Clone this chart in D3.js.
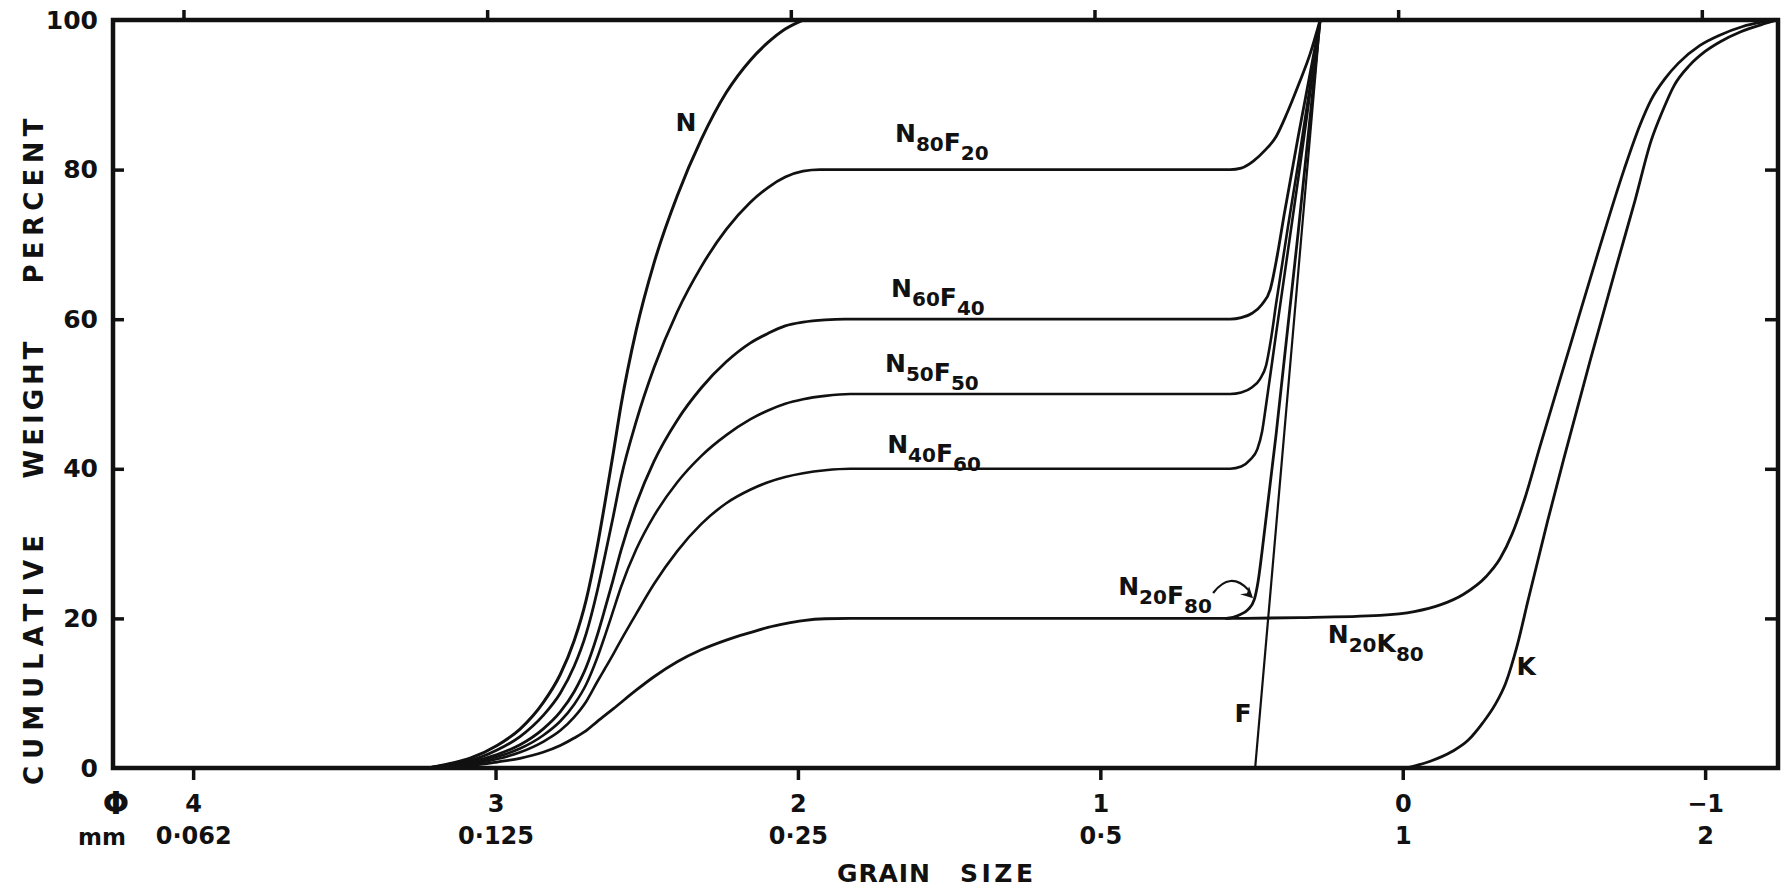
<!DOCTYPE html>
<html>
<head>
<meta charset="utf-8">
<script src="https://cdn.jsdelivr.net/npm/d3@7/dist/d3.min.js"></script>
<style>
  html, body { margin: 0; padding: 0; background: #fff; }
  svg { display: block; }
  text { font-family: "DejaVu Sans", "Liberation Sans", Arial, sans-serif; fill: #111; font-weight: bold; }
</style>
</head>
<body>
<svg id="chart" width="1784" height="889"></svg>
<script>
// Grain-size axis (phi units) and the matching sieve sizes in mm
const phiTicks = [4, 3, 2, 1, 0, -1];
const mmLabels = ["0\u00B7062", "0\u00B7125", "0\u00B725", "0\u00B75", "1", "2"];
const pctTicks = [0, 20, 40, 60, 80, 100];
const pctInnerTicks = [20, 40, 60, 80];

// Cumulative weight percent curves: phi positions and percent values
const phiN = [3.223, 3.150, 3.084, 2.995, 2.919, 2.843, 2.786, 2.740, 2.700, 2.664, 2.638, 2.611, 2.585, 2.535, 2.476, 2.399, 2.320, 2.237, 2.158, 2.099, 2.042, 1.983];
const pctN = [0, 0.6, 1.3, 3.0, 5.2, 8.7, 12.5, 17, 22.5, 29.5, 35.5, 42, 48.5, 58.5, 67.5, 76.5, 84, 90.3, 94.6, 97, 98.8, 100];

const phiN80F20 = [3.223, 3.150, 3.084, 2.995, 2.919, 2.843, 2.786, 2.740, 2.700, 2.664, 2.638, 2.611, 2.585, 2.535, 2.476, 2.399, 2.320, 2.237, 2.158, 2.099, 2.042, 1.983, 1.927,
                   0.571, 0.534, 0.495, 0.455, 0.419, 0.382, 0.343, 0.306, 0.273];
const pctN80F20 = [0, 0.5, 1.0, 2.4, 4.2, 7.0, 10, 13.6, 18, 23.6, 28.4, 33.6, 38.8, 46.3, 53.5, 61, 67, 72, 75.6, 77.6, 79, 79.8, 80,
                   80, 80.2, 81.1, 82.6, 84.4, 87.6, 91.5, 95.5, 100];

const phiN60F40 = [3.223, 3.150, 3.084, 2.995, 2.919, 2.843, 2.786, 2.740, 2.700, 2.664, 2.638, 2.611, 2.585, 2.535, 2.476, 2.399, 2.320, 2.237, 2.158, 2.099, 2.042, 1.983, 1.910, 1.844,
                   0.571, 0.534, 0.498, 0.465, 0.438, 0.415, 0.392, 0.343, 0.273];
const pctN60F40 = [0, 0.4, 0.8, 1.8, 3.1, 5.2, 7.5, 10.2, 13.5, 17.7, 21.3, 25.2, 29.1, 35.3, 41, 46.5, 50.8, 54.3, 56.8, 58.1, 59.1, 59.6, 59.9, 60,
                   60, 60.2, 60.8, 62, 64, 68.5, 74, 85, 100];

const phiN50F50 = [3.223, 3.150, 3.084, 2.995, 2.919, 2.843, 2.786, 2.740, 2.700, 2.664, 2.638, 2.611, 2.585, 2.535, 2.476, 2.399, 2.320, 2.237, 2.158, 2.099, 2.042, 1.983, 1.910, 1.827,
                   0.571, 0.534, 0.498, 0.472, 0.452, 0.435, 0.419, 0.379, 0.343, 0.273];
const pctN50F50 = [0, 0.3, 0.65, 1.5, 2.6, 4.35, 6.25, 8.5, 11.2, 14.7, 17.7, 21, 24.2, 29.2, 33.7, 38.2, 41.7, 44.5, 46.6, 47.8, 48.7, 49.3, 49.75, 50,
                   50, 50.2, 50.9, 52, 53.8, 57.5, 62, 72.5, 81.5, 100];

const phiN40F60 = [3.223, 3.150, 3.084, 2.995, 2.919, 2.843, 2.786, 2.740, 2.700, 2.664, 2.638, 2.611, 2.585, 2.535, 2.476, 2.399, 2.320, 2.237, 2.158, 2.099, 2.042, 1.983, 1.910, 1.827,
                   0.571, 0.534, 0.505, 0.481, 0.465, 0.452, 0.419, 0.343, 0.273];
const pctN40F60 = [0, 0.25, 0.5, 1.2, 2.1, 3.5, 5, 6.8, 8.9, 11.5, 13.3, 15.2, 17.1, 20.6, 24.6, 29, 32.6, 35.4, 37.2, 38.2, 38.9, 39.4, 39.8, 40,
                   40, 40.3, 41.2, 42.6, 45, 48.5, 58, 79.5, 100];

const phiN20F80 = [3.183, 3.084, 2.995, 2.919, 2.843, 2.786, 2.740, 2.700, 2.664, 2.611, 2.535, 2.476, 2.399, 2.320, 2.237, 2.158, 2.099, 2.042, 1.983, 1.910, 1.827,
                   0.584, 0.544, 0.511, 0.491, 0.478, 0.465, 0.419, 0.346, 0.273];
const pctN20F80 = [0, 0.3, 0.8, 1.3, 2.1, 3, 4, 5, 6.2, 7.9, 10.4, 12.2, 14.2, 15.8, 17.1, 18.1, 18.8, 19.3, 19.7, 19.95, 20,
                   20, 20.4, 21.2, 22.5, 25, 29, 44.5, 71.5, 100];

const phiN20K80 = [0.584, 0.339, 0.075, -0.038, -0.124, -0.200, -0.276, -0.322, -0.362, -0.405, -0.454, -0.554, -0.643, -0.732, -0.785, -0.821, -0.868, -0.911, -0.983, -1.050, -1.122, -1.188, -1.241];
const pctN20K80 = [20, 20.1, 20.4, 20.9, 21.8, 23.2, 25.6, 28, 31.3, 36.2, 43, 56.5, 68.5, 80, 86, 89.3, 92.2, 94.2, 96.6, 98, 99.1, 99.7, 100];

const phiK = [-0.011, -0.091, -0.163, -0.216, -0.264, -0.306, -0.340, -0.378, -0.415, -0.479, -0.537, -0.620, -0.706, -0.769, -0.821, -0.861, -0.897, -0.950, -1.000, -1.050, -1.116, -1.188, -1.241];
const pctK = [0, 0.9, 2.2, 3.7, 6, 8.5, 11.3, 16.3, 22.5, 33, 42, 54.5, 67, 76, 83.8, 88, 91.2, 94, 95.8, 97.1, 98.4, 99.4, 100];

const phiF = [0.488, 0.273];
const pctF = [0, 100];

// Curve labels: text, subscripts, anchor (phi, percent)
const labelParts = [
  [["N", ""]],
  [["N", "80"], ["F", "20"]],
  [["N", "60"], ["F", "40"]],
  [["N", "50"], ["F", "50"]],
  [["N", "40"], ["F", "60"]],
  [["N", "20"], ["F", "80"]],
  [["N", "20"], ["K", "80"]],
  [["K", ""]],
  [["F", ""]]
];
const labelPhi = [2.370, 1.679, 1.692, 1.712, 1.705, 0.941, 0.248, -0.408, 0.528];
const labelPct = [85.2, 83.7, 63.0, 52.9, 42.1, 23.1, 16.7, 12.4, 6.1];
const labelAnchor = ["middle", "start", "start", "start", "start", "start", "start", "middle", "middle"];

const svg = d3.select("#chart");
const W = 1784, H = 889;
const mLeft = 113, mRight = 1778, mTop = 20, mBottom = 768;

const x = d3.scaleLinear().domain([4.265, -1.241]).range([mLeft, mRight]);
const y = d3.scaleLinear().domain([0, 100]).range([mBottom, mTop]);
// the top tick row sits a little to the left of the bottom one
const xTop = d3.scaleLinear().domain([4.265, -1.241]).range([mLeft - 10, mRight - 3]);

svg.append("rect").attr("width", W).attr("height", H).attr("fill", "#fff");

// Curves
const series = [
  [phiN, pctN, 3], [phiN80F20, pctN80F20, 2.8], [phiN60F40, pctN60F40, 2.8],
  [phiN50F50, pctN50F50, 2.6], [phiN40F60, pctN40F60, 2.6], [phiN20F80, pctN20F80, 2.8],
  [phiN20K80, pctN20K80, 2.8], [phiK, pctK, 2.8]
];
const line = d3.line().x(d => x(d[0])).y(d => y(d[1])).curve(d3.curveMonotoneX);
const plot = svg.append("g");
series.forEach(([ph, pc, w]) => {
  plot.append("path")
    .datum(ph.map((p, i) => [p, pc[i]]))
    .attr("d", line)
    .attr("fill", "none").attr("stroke", "#111").attr("stroke-width", w)
    .attr("stroke-linejoin", "round").attr("stroke-linecap", "round");
});
plot.append("path")
  .datum(phiF.map((p, i) => [p, pctF[i]]))
  .attr("d", d3.line().x(d => x(d[0])).y(d => y(d[1])))
  .attr("fill", "none").attr("stroke", "#111").attr("stroke-width", 2.2);

// Frame
svg.append("rect")
  .attr("x", mLeft).attr("y", mTop)
  .attr("width", mRight - mLeft).attr("height", mBottom - mTop)
  .attr("fill", "none").attr("stroke", "#111").attr("stroke-width", 4.5);

// Axes
const styleAxis = g => {
  g.select(".domain").remove();
  g.selectAll(".tick line").attr("stroke", "#111").attr("stroke-width", 3.5);
};
const axisFont = sel => sel
  .attr("font-size", 24).attr("fill", "#111")
  .attr("font-family", "DejaVu Sans, Liberation Sans, Arial, sans-serif").attr("font-weight", "bold");

const bottomAxis = svg.append("g")
  .attr("transform", `translate(0,${mBottom})`)
  .call(d3.axisBottom(x).tickValues(phiTicks).tickSize(12).tickPadding(15)
    .tickFormat(d => d === -1 ? "\u22121" : d3.format("d")(d)))
  .call(styleAxis);
bottomAxis.selectAll(".tick text").call(axisFont);
bottomAxis.selectAll(".tick").append("text")
  .attr("y", 59).attr("dy", "0.71em")
  .attr("text-anchor", "middle")
  .call(axisFont)
  .text((d, i) => mmLabels[i]);

svg.append("g")
  .attr("transform", `translate(0,${mTop})`)
  .call(d3.axisTop(xTop).tickValues(phiTicks).tickSize(10).tickFormat(""))
  .call(styleAxis);

const leftAxis = svg.append("g")
  .attr("transform", `translate(${mLeft},0)`)
  .call(d3.axisLeft(y).tickValues(pctTicks).tickSize(-11).tickPadding(15).tickFormat(d3.format("d")))
  .call(styleAxis);
leftAxis.selectAll(".tick line").filter(d => d === 0 || d === 100).remove();
leftAxis.selectAll(".tick text").call(axisFont).attr("font-size", 25);

svg.append("g")
  .attr("transform", `translate(${mRight},0)`)
  .call(d3.axisRight(y).tickValues(pctInnerTicks).tickSize(-13).tickFormat(""))
  .call(styleAxis);

// Axis symbol labels
svg.append("text").attr("x", 116).attr("y", 814).attr("text-anchor", "middle")
  .attr("font-size", 31).text("\u03A6");
svg.append("text").attr("x", 102).attr("y", 845).attr("text-anchor", "middle")
  .attr("font-size", 23).text("mm");

// Axis titles, word by word
const xTitle = [["GRAIN", 883.5, 93], ["SIZE", 996.5, 73]];
xTitle.forEach(([w, cx, len]) => {
  svg.append("text")
    .attr("x", cx).attr("y", 882).attr("text-anchor", "middle")
    .attr("font-size", 25)
    .attr("textLength", len).attr("lengthAdjust", "spacing")
    .text(w);
});
const yTitle = [["CUMULATIVE", 660, 250], ["WEIGHT", 410, 137], ["PERCENT", 201, 165]];
yTitle.forEach(([w, cy, len]) => {
  svg.append("text")
    .attr("transform", `translate(43,${cy}) rotate(-90)`)
    .attr("text-anchor", "middle")
    .attr("font-size", 26)
    .attr("textLength", len).attr("lengthAdjust", "spacing")
    .text(w);
});

// Curve labels with subscripts
labelParts.forEach((parts, i) => {
  const t = svg.append("text")
    .attr("x", x(labelPhi[i])).attr("y", y(labelPct[i]))
    .attr("text-anchor", labelAnchor[i])
    .attr("font-size", 25);
  parts.forEach(([main, sub]) => {
    t.append("tspan").text(main);
    if (sub) {
      t.append("tspan").attr("font-size", 20).attr("dy", 9).text(sub);
      t.append("tspan").attr("dy", -9).text("");
    }
  });
});

// Arrow from the N20F80 label to its curve
const arrowPath = d3.path();
arrowPath.moveTo(x(0.627), y(23.4));
arrowPath.quadraticCurveTo(x(0.57), y(26.4), x(0.51), y(23.8));
svg.append("path").attr("d", arrowPath.toString())
  .attr("fill", "none").attr("stroke", "#111").attr("stroke-width", 2.2);
const ax = x(0.495), ay = y(22.7);
svg.append("path")
  .attr("d", `M${ax},${ay} L${ax - 4},${ay - 12} L${ax - 6},${ay - 5} L${ax - 13},${ay - 4} Z`)
  .attr("fill", "#111");
</script>
</body>
</html>
